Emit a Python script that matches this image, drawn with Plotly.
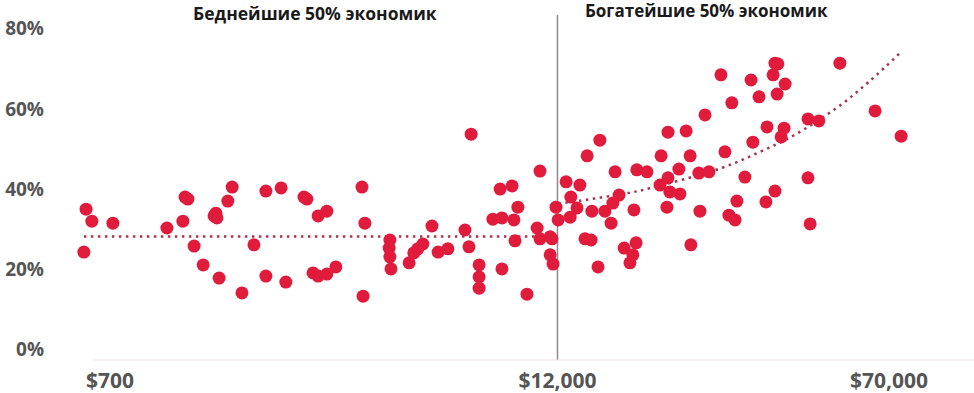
import plotly.graph_objects as go

# log10 of GDP per capita (US$) for each economy
log_gdp = [
    2.779, 2.795, 2.853, 2.773, 3.002, 3.046, 3.052, 3.060, 3.077, 3.102,
    3.132, 3.137, 3.140, 3.170, 3.182, 3.146, 3.209, 3.242, 3.275, 3.317,
    3.275, 3.330, 3.380, 3.388, 3.419, 3.443, 3.405, 3.419, 3.443, 3.468,
    3.540, 3.548, 3.543, 3.617, 3.615, 3.617, 3.620, 3.670, 3.683, 3.694,
    3.708, 3.733, 3.750, 3.777, 3.824, 3.835, 3.841, 3.863, 3.863, 3.863,
    3.901, 3.926, 3.921, 3.954, 3.959, 3.970, 3.962, 3.926, 3.995, 4.031,
    4.023, 4.031, 4.059, 4.064, 4.059, 4.067, 4.075, 4.081,
    4.103, 4.116, 4.133, 4.114, 4.141, 4.161, 4.196, 4.155, 4.172, 4.174,
    4.210, 4.227, 4.191, 4.238, 4.232, 4.249, 4.290, 4.263, 4.296, 4.287,
    4.279, 4.298, 4.326, 4.365, 4.384, 4.434, 4.445, 4.414, 4.469, 4.497,
    4.362, 4.384, 4.389, 4.417, 4.381, 4.472, 4.447, 4.486, 4.530, 4.541,
    4.560, 4.596, 4.574, 4.552, 4.569, 4.613, 4.618, 4.635, 4.657, 4.654,
    4.679, 4.679, 4.687, 4.674, 4.707, 4.685, 4.704, 4.696, 4.770, 4.800,
    4.770, 4.776, 4.858, 4.955, 5.027,
]
# share (%) for each economy
share = [
    35.0, 32.0, 31.5, 24.3, 30.3, 32.0, 38.0, 37.5, 25.8, 21.1,
    33.3, 34.0, 32.8, 37.0, 40.5, 17.8, 14.1, 26.1, 39.5, 40.3,
    18.3, 16.8, 38.0, 37.5, 33.3, 34.5, 19.1, 18.3, 18.8, 20.6,
    40.5, 31.5, 13.3, 27.3, 25.3, 23.1, 20.1, 21.6, 24.1, 25.1,
    26.3, 30.8, 24.3, 25.1, 29.8, 25.6, 53.7, 21.1, 18.1, 15.3,
    32.5, 32.8, 40.0, 40.8, 32.3, 35.5, 27.1, 20.1, 13.8, 44.5,
    30.3, 27.6, 28.1, 27.6, 23.6, 21.3, 35.5, 32.3,
    41.8, 38.0, 35.3, 33.0, 41.0, 48.3, 52.2, 27.6, 27.3, 34.5,
    34.5, 31.5, 20.6, 44.3, 36.5, 38.5, 34.8, 25.3, 26.6, 23.6,
    21.6, 44.8, 44.3, 48.3, 54.2, 54.5, 48.3, 45.0, 44.0, 44.3,
    41.0, 42.8, 39.3, 38.8, 35.5, 34.5, 26.1, 58.5, 68.5, 49.3,
    61.5, 43.0, 37.0, 33.5, 32.3, 67.2, 51.7, 63.0, 55.5, 36.8,
    39.5, 71.4, 71.2, 68.5, 66.2, 63.7, 55.2, 53.0, 57.5, 57.0,
    42.8, 31.3, 71.4, 59.5, 53.2,
]

# trend lines
trend_left_x = [2.773, 4.081]
trend_left_y = [28.2, 28.2]
trend_right_x = [4.081, 4.141, 4.279, 4.320, 4.533, 4.638, 4.729, 4.850, 4.941, 5.027]
trend_right_y = [36.4, 37.1, 39.1, 39.9, 45.3, 49.3, 53.3, 60.3, 67.0, 74.2]

median_log_gdp = 4.0792  # $12,000
tick_pos = [2.845, 4.0792, 4.9934]
tick_text = ["$700", "$12,000", "$70,000"]
y_ticks = [0, 20, 40, 60, 80]
y_text = ["0%", "20%", "40%", "60%", "80%"]

title_left = "Беднейшие 50% экономик"
title_right = "Богатейшие 50% экономик"
title_left_x = 3.410
title_right_x = 4.490

RED = "#e11b3c"
TREND = "#a3344d"

fig = go.Figure()
fig.add_trace(go.Scatter(
    x=trend_left_x, y=trend_left_y, mode="lines",
    line=dict(color=TREND, width=2.5, dash="2.5px,4.5px"),
    hoverinfo="skip", showlegend=False,
))
fig.add_trace(go.Scatter(
    x=trend_right_x, y=trend_right_y, mode="lines",
    line=dict(color=TREND, width=2.5, dash="2.5px,4.5px", shape="spline"),
    hoverinfo="skip", showlegend=False,
))
fig.add_trace(go.Scatter(
    x=log_gdp, y=share, mode="markers",
    marker=dict(color=RED, size=13, line=dict(width=0)),
    showlegend=False,
))

fig.add_shape(type="line", xref="x", yref="paper",
              x0=median_log_gdp, x1=median_log_gdp, y0=0, y1=1,
              line=dict(color="#8c8c8c", width=1.5), layer="below")
fig.add_shape(type="line", xref="paper", yref="paper",
              x0=0.0517, x1=1, y0=0, y1=0,
              line=dict(color="#ecdfe4", width=1.2), layer="below")

fig.add_annotation(x=title_left_x, y=1.0058, xref="x", yref="paper",
                   text=title_left, showarrow=False,
                   font=dict(family="Open Sans", size=17.5, color="#1a1a1a", weight="bold"),
                   xanchor="center", yanchor="middle")
fig.add_annotation(x=title_right_x, y=1.013, xref="x", yref="paper",
                   text=title_right, showarrow=False,
                   font=dict(family="Open Sans", size=17, color="#1a1a1a", weight="bold"),
                   xanchor="center", yanchor="middle")

fig.update_layout(
    width=974, height=393,
    margin=dict(l=45, r=0, t=15, b=33, autoexpand=False),
    paper_bgcolor="white", plot_bgcolor="white",
    xaxis=dict(
        range=[2.6658, 5.2279], tickvals=tick_pos, ticktext=tick_text,
        showgrid=False, zeroline=False, showline=False, automargin=False,
        ticks="outside", ticklen=2, tickcolor="rgba(0,0,0,0)",
        tickfont=dict(family="Open Sans", size=21, color="#555555", weight="bold"),
    ),
    yaxis=dict(
        range=[-2.62, 83.41], tickvals=y_ticks, ticktext=y_text,
        showgrid=False, zeroline=False, showline=False, automargin=False,
        ticks="",
        tickfont=dict(family="Open Sans", size=19, color="#555555", weight="bold"),
    ),
)

fig.write_html(
    "out.html",
    config={"displayModeBar": False},
    post_script="document.body.style.margin='0';document.body.style.overflow='hidden';",
)
